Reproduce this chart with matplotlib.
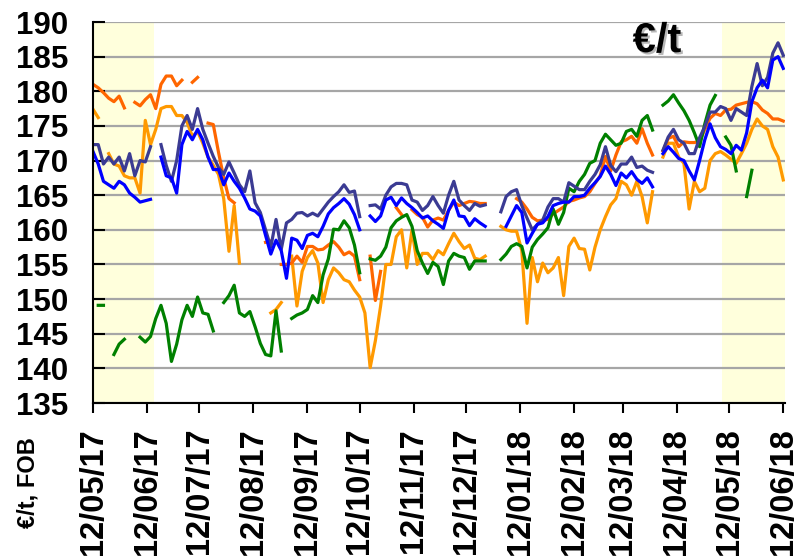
import numpy as np
import pandas as pd
import matplotlib
matplotlib.use("Agg")
import matplotlib.pyplot as plt
import matplotlib.patheffects as pe

nan = np.nan

# prices every third day, 12/05/2017 .. 12/06/2018 (133 points)
dates = pd.date_range("2017-05-12", periods=133, freq="3D")

dark_orange = [
    181, 180.5, 179.8, 179, 178.5, 179.3, 177.6, nan, 178.4, 177.9,
    178.8, 179.5, 177.5, 181, 182.2, 182.2, 180.8, 181.6, nan, 181.3,
    182, nan, 175.4, 175.2, 171.2, 167.5, 164.5, 163.9, nan, nan,
    nan, nan, nan, 158.2, 158.4, nan, 155, 155, 155.2, 156.2,
    155.3, 157.6, 157.6, 157.1, 157.2, 157.8, 158.3, 157.5, 156.4, 156.8,
    156.2, 152.8, nan, 156.2, 149.8, 154, nan, nan, 163.2, 162.2,
    nan, 162.9, 162.2, 161.8, 160.4, 161.4, 161.7, 161.4, 162.8, 164,
    163.5, 163.8, 164.1, 164, 163.8, 163.8, nan, nan, nan, nan,
    nan, 164.5, 164, 163, 161.8, 161.3, 161.4, 161.5, 162.3, 162.8,
    163.3, 164.1, 164.3, 164.6, 164.8, 165.5, 166.7, 167.8, 170.6, 168.5,
    170.8, 172.7, 173, 173.5, 172.5, 174.6, 172.5, 170.8, nan, 171.4,
    173.2, 173.5, 172, 172.7, 172.6, 172.6, 172.8, 174.5, 176.1, 176.8,
    176.5, 177.3, 177.4, 178, 178.2, 178.4, 178.5, 178.2, 177.3, 176.8,
    176, 176, 175.7,
]

light_orange = [
    177.4, 176.2, nan, 171, 169.5, 169.2, 167.8, 167.5, 167.5, 165.3,
    175.8, 172.3, 174.5, 177.5, 177.8, 177.8, 176.5, 176.5, 175.5, 173.5,
    174.2, 172.5, 170.5, 169.3, 168, 164.5, 156.9, 163.5, 155.2, nan,
    nan, nan, nan, nan, 148, 148.5, 149.5, nan, 156.2, 149,
    154, 156, 157, 155.2, 149.5, 152.8, 154.5, 153.8, 152.8, 152.5,
    151.3, 150.3, 148, 140.1, 144, 149, 155, 155, 159, 160,
    154.5, 160, 155, 156.6, 156.6, 155.7, 157, 156.4, 158, 159.5,
    158.3, 157.3, 157.8, 155.9, 155.7, 156.2, nan, nan, 160.5, 160,
    159.8, 159.8, 157, 146.5, 156, 152.5, 155.2, 153.8, 154.5, 156,
    150.5, 157.6, 158.8, 157.3, 157.2, 154.2, 157.5, 160, 161.9, 163.6,
    164.5, 167, 166.5, 165, 167, 164.8, 161, 165.5, nan, 170.5,
    172.5, 172.5, 170.5, 169.6, 163, 167, 165.5, 166, 170, 171,
    171.3, 170.8, 170.2, 169.6, 171, 172.5, 174.5, 176, 175, 174.5,
    172, 170.5, 167.2,
]

blue = [
    171.3, 169.5, 167, 166.5, 166, 167, 166.5, 165.3, 164.7, 164,
    164.2, 164.4, nan, 170.5, 167.8, 167.5, 165.3, 172.3, 174.2, 173,
    174.5, 173, 170.5, 168.7, 168.7, 166.5, 168.2, 167, 166, 164.6,
    163, 162.7, 162, 159.2, 156.5, 158.5, 157, 153, 158.8, 158.5,
    157.3, 159.2, 159.5, 159, 160.5, 162.3, 163.2, 163.8, 164.5, 163.7,
    162.2, 160, nan, 162, 161.2, 162, 164.3, 164.7, 163.5, 164.6,
    163.8, 163.2, 162.5, 161.7, 162, 161.3, 160.8, 160.2, 162.8, 164.3,
    162, 161.9, 160.6, 161.6, 161, 160.5, nan, nan, nan, 160.5,
    162, 163.5, 162.5, 158.1, 159.5, 160.8, 161, 161.9, 163.5, 163.8,
    164, 164, 164.8, 164.8, 165, 166, 166.8, 167.7, 169.2, 168,
    166.4, 168.2, 167.5, 168.4, 167.3, 166.7, 167.5, 166.2, nan, 171,
    172, 171.2, 170.3, 170, 168.5, 167.2, 170, 173, 175.3, 173.3,
    172, 171.6, 171, 172.2, 171.5, 174, 178.5, 180.5, 181.6, 180.5,
    184.5, 185, 183.3,
]

slate = [
    172.3, 172.3, 169.5, 170.5, 169.5, 170.5, 168.5, 171, 167.8, 170,
    169.8, 172, nan, 172.3, 169.3, 167, 170, 175, 176.5, 174.5,
    177.5, 174.5, 172.5, 170.6, 169, 168, 169.8, 168.2, 166.5, 165.5,
    168.5, 163.9, 162.5, 160, 157.5, 161.5, 157.2, 161, 161.5, 162.4,
    162.5, 162, 162.4, 162, 163, 164, 164.8, 165.5, 166.5, 165.4,
    165.6, 161.9, nan, 163.5, 163.6, 163, 165, 166.2, 166.7, 166.7,
    166.5, 164.3, 164, 162.8, 163.5, 164.8, 163.5, 162.4, 165, 167,
    164.3, 163.5, 162.8, 163.8, 163.4, 163.6, nan, nan, 162.6, 164.8,
    165.5, 165.8, 163.5, 161.7, 160, 160.8, 161.4, 163.3, 164.5, 164.5,
    164, 166.8, 166.3, 165.8, 165.8, 167, 168, 169.4, 172, 169.3,
    168.4, 169.5, 169.5, 170.5, 169, 169.2, 168.6, 168.3, nan, 171.5,
    173.4, 174.5, 173, 172.5, 171, 171, 173.3, 174.9, 177, 177,
    177.8, 177.5, 175.8, 177.5, 177, 176.5, 180.7, 184, 180.8, 182,
    185.5, 187, 185.2,
]

green = [
    nan, 149.1, 149.1, nan, 142, 143.5, 144.2, nan, nan, 144.5,
    143.8, 144.6, 147.2, 149.1, 146.5, 141, 143.5, 147, 149.1, 147.5,
    150.3, 148, 147.8, 145.4, nan, 149.5, 150.5, 152, 148, 147.5,
    148.2, 146, 143.6, 142, 141.8, 148.3, 142.5, nan, 147.2, 147.7,
    148, 148.5, 150.5, 149.5, 153.5, 155.8, 160.1, 160, 161.3, 160.3,
    157.8, 153.8, nan, 155.8, 155.6, 156.2, 157.5, 160.3, 161.3, 161.8,
    162.2, 160.5, 157, 155.2, 153.7, 155.3, 154.7, 152.1, 155.5, 156.6,
    156.2, 156, 154.3, 155.5, 155.5, 155.5, nan, nan, 155.7, 156.5,
    157.6, 158, 157.6, 154.5, 157.5, 158.6, 159.4, 160.3, 163, 160.8,
    162.5, 166, 165.5, 167, 168, 169.6, 170, 172.5, 173.8, 173,
    172.2, 172.5, 174.2, 174.5, 173.5, 175.8, 176.5, 174.4, nan, 178,
    178.6, 179.5, 178.3, 177.2, 175.8, 174, 172, 175.3, 178, 179.4,
    nan, 173.4, 172.2, 168.5, nan, 164.8, 168.6, nan, nan, nan,
    nan, nan, nan,
]

# the 12th of every month on the axis
tick_dates = pd.date_range("2017-05-01", "2018-06-01", freq="MS") + pd.Timedelta(days=11)
shaded = [("2017-05-12", "2017-06-16"), ("2018-05-08", "2018-06-13")]

plt.rcParams["font.family"] = ["Liberation Sans", "DejaVu Sans"]
plt.rcParams["font.weight"] = "bold"

fig = plt.figure(figsize=(7.98, 5.56), dpi=100)
ax = fig.add_axes([93 / 798, 1 - 403 / 556, 692 / 798, 381 / 556])

for start, end in shaded:
    ax.axvspan(pd.Timestamp(start), pd.Timestamp(end), color="#ffffdc", zorder=0, lw=0)

lw = 2.3
ax.plot(dates, light_orange, color="#ff9900", lw=lw)
ax.plot(dates, dark_orange, color="#ff6600", lw=lw)
ax.plot(dates, green, color="#008000", lw=lw)
ax.plot(dates, slate, color="#3b3b93", lw=lw)
ax.plot(dates, blue, color="#0000ff", lw=lw)

ax.set_xlim(pd.Timestamp("2017-05-12"), pd.Timestamp("2018-06-13"))
ax.set_ylim(135, 190)
ax.set_yticks(range(135, 191, 5))
ax.set_xticks(tick_dates)
ax.set_xticklabels([d.strftime("%d/%m/%y") for d in tick_dates], rotation=90,
                   fontsize=23.5, fontweight="bold")
for lab in ax.get_yticklabels():
    lab.set_fontsize(22.5)
    lab.set_fontweight("bold")

ax.tick_params(axis="y", direction="in", length=8.5, width=1.5, pad=18)
ax.tick_params(axis="x", direction="out", length=7, width=1.5, pad=11)

ax.set_axisbelow(True)
ax.yaxis.grid(True, color="#a6a6a6", lw=1.6)
for side in ("top", "right"):
    ax.spines[side].set_visible(False)
for side in ("left", "bottom"):
    ax.spines[side].set_linewidth(1.5)
    ax.spines[side].set_color("black")

ax.text(0.815, 0.95, "€/t", transform=ax.transAxes, fontsize=30, fontweight="bold",
        ha="center", va="center",
        path_effects=[pe.SimplePatchShadow(offset=(1.5, -1.5), shadow_rgbFace="#888888", alpha=0.6),
                      pe.Normal()])

fig.text(28 / 798, 1 - 483 / 556, "€/t, FOB", rotation=90, ha="center", va="center",
         fontsize=17, fontweight="bold")

fig.savefig("out.png", dpi=100)
